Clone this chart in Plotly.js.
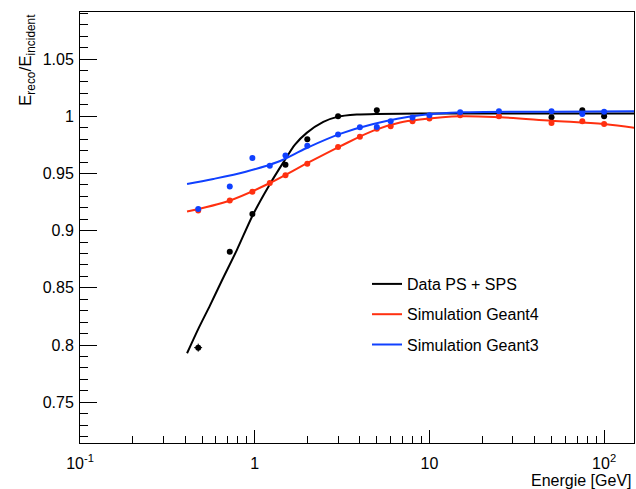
<!DOCTYPE html>
<html>
<head>
<meta charset="utf-8">
<script src="https://cdn.plot.ly/plotly-3.0.1.min.js"></script>
<style>html,body{margin:0;padding:0;background:#fff;}#chart{width:636px;height:489px;}</style>
</head>
<body>
<div id="chart"></div>
<script>
// Measured points
const dataE = [0.475, 0.72, 0.97, 1.5, 2, 3, 5, 50, 75, 100];
const dataR = [0.7977, 0.8815, 0.9145, 0.9577, 0.980, 1.000, 1.0053, 0.9991, 1.0053, 1.000];
const dataErrE = [0.025, 0, 0, 0, 0, 0, 0, 0, 0, 0];
const dataErrR = [0.0035, 0, 0, 0, 0, 0, 0, 0, 0, 0];

const simE = [0.475, 0.72, 0.97, 1.22, 1.5, 2, 3, 4, 5, 6, 8, 10, 15, 25, 50, 75, 100];
const g4R = [0.9177, 0.9264, 0.9341, 0.9417, 0.9485, 0.9586, 0.9732, 0.9822, 0.989, 0.9912, 0.9956, 0.998, 1.0009, 1.000, 0.9942, 0.9956, 0.9933];
const g3R = [0.9189, 0.9387, 0.9636, 0.9568, 0.9658, 0.9743, 0.984, 0.9904, 0.9907, 0.9956, 0.9989, 1.0009, 1.0035, 1.0044, 1.0044, 1.0021, 1.0039];

// Fit curves
const fitDataE = [0.41, 0.48, 0.555, 0.65, 0.79, 0.974, 1.2, 1.48, 1.7, 1.985, 2.47, 2.97, 3.84, 5, 8.8, 20, 50, 150];
const fitDataR = [0.7928, 0.8154, 0.8347, 0.8566, 0.8830, 0.9135, 0.9387, 0.9612, 0.9752, 0.9855, 0.9951, 0.9995, 1.0015, 1.0021, 1.0024, 1.0025, 1.0025, 1.0025];
const fitG4E = [0.41, 0.722, 1.224, 2.0, 3.08, 4.78, 6.8, 8.83, 15, 25.5, 50, 100, 150];
const fitG4R = [0.9168, 0.9264, 0.9417, 0.959, 0.9737, 0.9875, 0.9945, 0.9971, 1.000, 0.9991, 0.9962, 0.9933, 0.9898];
const fitG3E = [0.41, 0.58, 0.9, 1.35, 1.985, 3.08, 4.78, 8.83, 16.35, 50, 150];
const fitG3R = [0.9408, 0.9452, 0.9518, 0.9600, 0.9723, 0.9846, 0.9933, 1.0009, 1.0035, 1.0040, 1.0044];

const legendNames = ["Data PS + SPS", "Simulation Geant4", "Simulation Geant3"];

const xTickVals = [0.1, 1, 10, 100];
const xTickText = ["10<sup>-1</sup>", "1", "10", "10<sup>2</sup>"];
const xMinorVals = [0.2,0.3,0.4,0.5,0.6,0.7,0.8,0.9,2,3,4,5,6,7,8,9,20,30,40,50,60,70,80,90];
const yTickVals = [0.75, 0.8, 0.85, 0.9, 0.95, 1, 1.05];
const yTickText = ["0.75", "0.8", "0.85", "0.9", "0.95", "1", "1.05"];

const BLACK = "#000000", RED = "#ff3010", BLUE = "#1040ff";
const FONT = "Liberation Sans, Arial, Helvetica, sans-serif";

const traces = [
  {x: fitDataE, y: fitDataR, mode: "lines", line: {color: BLACK, width: 2, shape: "spline", smoothing: 0.8}, name: legendNames[0], legendgroup: "a", showlegend: true},
  {x: dataE, y: dataR, mode: "markers", marker: {color: BLACK, size: 6}, showlegend: false,
   error_x: {type: "data", array: dataErrE, color: BLACK, width: 0, thickness: 1},
   error_y: {type: "data", array: dataErrR, color: BLACK, width: 0, thickness: 1}},
  {x: fitG4E, y: fitG4R, mode: "lines", line: {color: RED, width: 2, shape: "spline"}, name: legendNames[1], legendgroup: "b", showlegend: true},
  {x: simE, y: g4R, mode: "markers", marker: {color: RED, size: 6}, showlegend: false},
  {x: fitG3E, y: fitG3R, mode: "lines", line: {color: BLUE, width: 2, shape: "spline"}, name: legendNames[2], legendgroup: "c", showlegend: true},
  {x: simE, y: g3R, mode: "markers", marker: {color: BLUE, size: 6}, showlegend: false},
  {x: [], y: [], xaxis: "x2", yaxis: "y", showlegend: false, hoverinfo: "skip"}
];

const xr = [-1, 2.171];
const layout = {
  width: 636, height: 489,
  margin: {l: 80, r: 2, t: 12, b: 46, pad: 0},
  paper_bgcolor: "#fff", plot_bgcolor: "#fff",
  font: {family: FONT, size: 16, color: "#000"},
  showlegend: true,
  legend: {x: (367 - 80) / 554, y: (443 - 267) / 431, xanchor: "left", yanchor: "top",
           bgcolor: "rgba(0,0,0,0)", borderwidth: 0, tracegroupgap: 6.5,
           font: {family: FONT, size: 16, color: "#000"}},
  xaxis: {type: "log", range: xr, tickvals: xTickVals, ticktext: xTickText,
          ticks: "inside", ticklen: 13, tickwidth: 1, tickcolor: "#000",
          showline: true, linecolor: "#000", linewidth: 1, mirror: true,
          showgrid: false, zeroline: false, ticklabelstandoff: 6,
          tickfont: {family: FONT, size: 16, color: "#000"}},
  xaxis2: {type: "log", range: xr, overlaying: "x", anchor: "y", side: "bottom",
           tickvals: xMinorVals, showticklabels: false, ticks: "inside", ticklen: 7,
           tickwidth: 1, tickcolor: "#000", showline: false, showgrid: false, zeroline: false},
  yaxis: {range: [0.7143, 1.0912], tickvals: yTickVals, ticktext: yTickText,
          ticks: "inside", ticklen: 17, tickwidth: 1, tickcolor: "#000",
          minor: {dtick: 0.01, tick0: 0.7, ticks: "inside", ticklen: 8, tickwidth: 1, tickcolor: "#000", showgrid: false},
          showline: true, linecolor: "#000", linewidth: 1, mirror: true,
          showgrid: false, zeroline: false, ticklabelstandoff: 2,
          tickfont: {family: FONT, size: 16, color: "#000"}},
  annotations: [
    {text: "Energie [GeV]", xref: "paper", yref: "paper", x: 1, y: 0, xanchor: "right", yanchor: "top",
     yshift: -27, showarrow: false, font: {family: FONT, size: 16, color: "#000"}},
    {text: "E<sub>reco</sub>/E<sub>incident</sub>", xref: "paper", yref: "paper", x: (27 - 80) / 554, y: 1,
     xanchor: "center", yanchor: "top", textangle: -90, showarrow: false,
     font: {family: FONT, size: 17, color: "#000"}}
  ]
};

Plotly.newPlot("chart", traces, layout, {staticPlot: true, displayModeBar: false});
</script>
</body>
</html>
